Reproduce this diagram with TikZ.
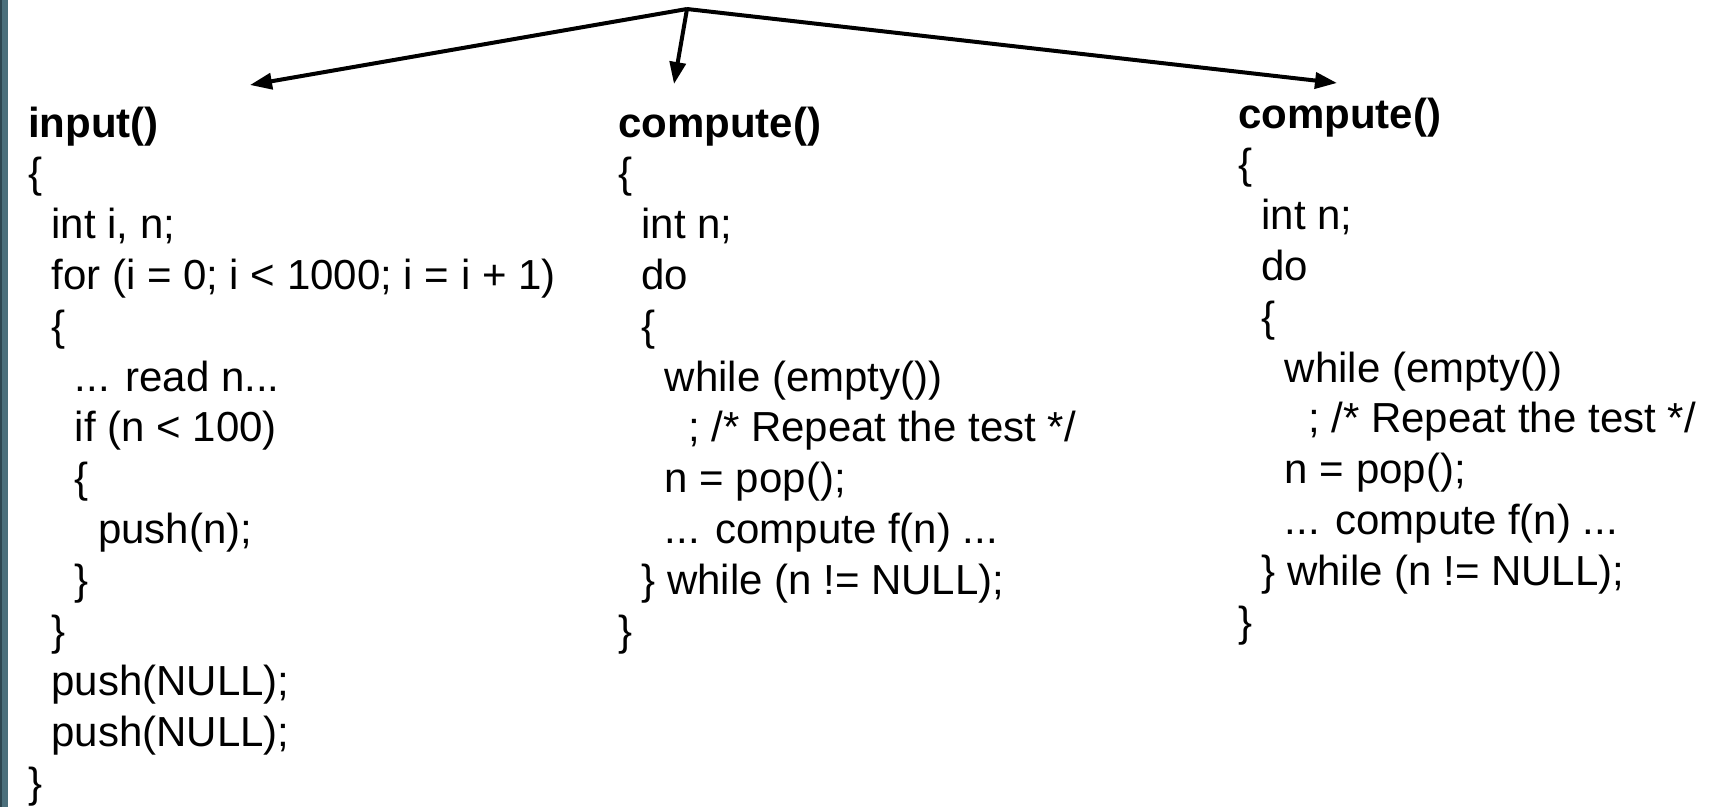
\documentclass[tikz,border=0pt]{standalone}
\usepackage{fontspec}
\setmainfont{Liberation Sans}
\usetikzlibrary{arrows.meta}
\definecolor{barteal}{RGB}{75,111,123}
\definecolor{bardark}{RGB}{45,70,80}
\newcommand{\cf}{\fontsize{42}{50}\selectfont}
\tikzset{
  codeline/.style={anchor=base west, inner sep=0pt, outer sep=0pt, font=\cf},
  codetitle/.style={codeline, font=\cf\bfseries},
  spawn/.style={line width=4pt, -{Triangle[length=22pt,width=16pt]}},
}
\begin{document}
\begin{tikzpicture}[x=1pt,y=-1pt]
\useasboundingbox (0,0) rectangle (1711,807);
\fill[white] (0,0) rectangle (1711,807);
% left bar
\fill[barteal] (0,0) rectangle (8,807);
\fill[bardark] (0,0) rectangle (2,807);
\def\ind{23.4}
\def\ls{50.8}
% ---- column 1 ----
\def\cx{28}\def\cy{137}
\node[codetitle] (a0) at ({\cx+0*\ind},{\cy+0*\ls}) {input()};
\node[codeline] (a1) at ({\cx+0*\ind},{\cy+1*\ls}) {\{};
\node[codeline] (a2) at ({\cx+1*\ind},{\cy+2*\ls}) {int i, n;};
\node[codeline] (a3) at ({\cx+1*\ind},{\cy+3*\ls}) {for (i = 0; i < 1000; i = i + 1)};
\node[codeline] (a4) at ({\cx+1*\ind},{\cy+4*\ls}) {\{};
\node[codeline] (a5) at ({\cx+2*\ind},{\cy+5*\ls}) {... read n...};
\node[codeline] (a6) at ({\cx+2*\ind},{\cy+6*\ls}) {if (n < 100)};
\node[codeline] (a7) at ({\cx+2*\ind},{\cy+7*\ls}) {\{};
\node[codeline] (a8) at ({\cx+3*\ind},{\cy+8*\ls}) {push(n);};
\node[codeline] (a9) at ({\cx+2*\ind},{\cy+9*\ls}) {\}};
\node[codeline] (a10) at ({\cx+1*\ind},{\cy+10*\ls}) {\}};
\node[codeline] (a11) at ({\cx+1*\ind},{\cy+11*\ls}) {push(NULL);};
\node[codeline] (a12) at ({\cx+1*\ind},{\cy+12*\ls}) {push(NULL);};
\node[codeline] (a13) at ({\cx+0*\ind},{\cy+13*\ls}) {\}};
% ---- column 2 ----
\def\cx{618}\def\cy{137}
\node[codetitle] (b0) at ({\cx+0*\ind},{\cy+0*\ls}) {compute()};
\node[codeline] (b1) at ({\cx+0*\ind},{\cy+1*\ls}) {\{};
\node[codeline] (b2) at ({\cx+1*\ind},{\cy+2*\ls}) {int n;};
\node[codeline] (b3) at ({\cx+1*\ind},{\cy+3*\ls}) {do};
\node[codeline] (b4) at ({\cx+1*\ind},{\cy+4*\ls}) {\{};
\node[codeline] (b5) at ({\cx+2*\ind},{\cy+5*\ls}) {while (empty())};
\node[codeline] (b6) at ({\cx+3*\ind},{\cy+6*\ls}) {; /* Repeat the test */};
\node[codeline] (b7) at ({\cx+2*\ind},{\cy+7*\ls}) {n = pop();};
\node[codeline] (b8) at ({\cx+2*\ind},{\cy+8*\ls}) {... compute f(n) ...};
\node[codeline] (b9) at ({\cx+1*\ind},{\cy+9*\ls}) {\} while (n != NULL);};
\node[codeline] (b10) at ({\cx+0*\ind},{\cy+10*\ls}) {\}};
% ---- column 3 ----
\def\cx{1238}\def\cy{128}
\node[codetitle] (c0) at ({\cx+0*\ind},{\cy+0*\ls}) {compute()};
\node[codeline] (c1) at ({\cx+0*\ind},{\cy+1*\ls}) {\{};
\node[codeline] (c2) at ({\cx+1*\ind},{\cy+2*\ls}) {int n;};
\node[codeline] (c3) at ({\cx+1*\ind},{\cy+3*\ls}) {do};
\node[codeline] (c4) at ({\cx+1*\ind},{\cy+4*\ls}) {\{};
\node[codeline] (c5) at ({\cx+2*\ind},{\cy+5*\ls}) {while (empty())};
\node[codeline] (c6) at ({\cx+3*\ind},{\cy+6*\ls}) {; /* Repeat the test */};
\node[codeline] (c7) at ({\cx+2*\ind},{\cy+7*\ls}) {n = pop();};
\node[codeline] (c8) at ({\cx+2*\ind},{\cy+8*\ls}) {... compute f(n) ...};
\node[codeline] (c9) at ({\cx+1*\ind},{\cy+9*\ls}) {\} while (n != NULL);};
\node[codeline] (c10) at ({\cx+0*\ind},{\cy+10*\ls}) {\}};
% ---- arrows ----
\coordinate (apex) at (687,9);
\coordinate (tipL) at (250,85);
\coordinate (tipM) at (674,84);
\coordinate (tipR) at (1337,83);
\draw[spawn] (apex) -- (tipL);
\draw[spawn] (apex) -- (tipM);
\draw[spawn] (apex) -- (tipR);
\end{tikzpicture}
\end{document}
